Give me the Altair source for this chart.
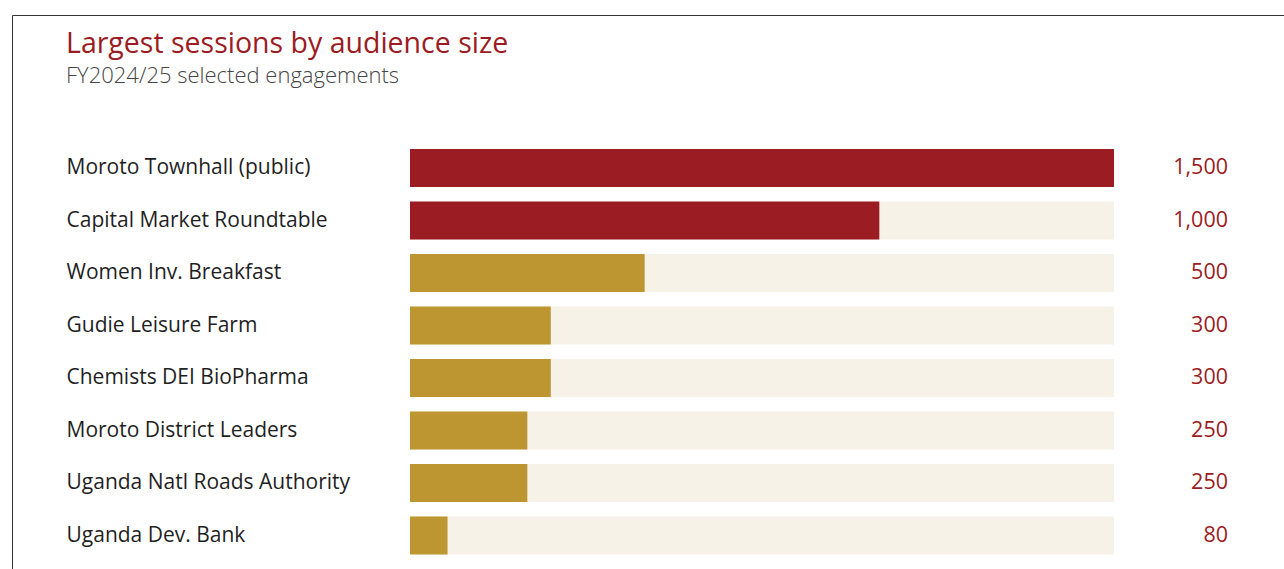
import altair as alt
import pandas as pd

sessions = [
    "Moroto Townhall (public)",
    "Capital Market Roundtable",
    "Women Inv. Breakfast",
    "Gudie Leisure Farm",
    "Chemists DEI BioPharma",
    "Moroto District Leaders",
    "Uganda Natl Roads Authority",
    "Uganda Dev. Bank",
]
audience = [1500, 1000, 500, 300, 300, 250, 250, 80]
scale_max = 1500

df = pd.DataFrame({"session": sessions, "audience": audience})

RED = "#9B1C22"
GOLD = "#BD9632"
TRACK = "#F7F2E8"
FONT = "Open Sans"

y = alt.Y(
    "session:N",
    sort=sessions,
    title=None,
    scale=alt.Scale(range=[126.75, 546.75], paddingInner=0.276, paddingOuter=0.138),
    axis=alt.Axis(
        domain=False, ticks=False, grid=False,
        labelAlign="left", labelPadding=-54,
        labelFontSize=21, labelColor="#1f1f1f", labelFont=FONT,
        labelFontWeight=500, labelLimit=400,
    ),
)
xs = alt.Scale(domain=[0, scale_max], range=[398, 1102])

base = alt.Chart(df).transform_calculate(track_end=str(scale_max))

track = base.mark_bar(color=TRACK).encode(
    y=y, x=alt.X("track_end:Q", scale=xs, axis=None)
)
bars = base.mark_bar().encode(
    y=y,
    x=alt.X("audience:Q", scale=xs, axis=None),
    color=alt.condition("datum.audience >= 1000", alt.value(RED), alt.value(GOLD)),
)
labels = base.mark_text(
    align="right", baseline="middle", dx=114, fontSize=21.5, font=FONT,
    color=RED, fontWeight=500,
).encode(
    y=y,
    x=alt.X("track_end:Q", scale=xs, axis=None),
    text=alt.Text("audience:Q", format=","),
)

chart = alt.layer(track, bars, labels).properties(
    width=1272,
    height=554,
    padding={"left": 12, "top": 15, "right": 0, "bottom": 0},
    autosize="none",
    background="white",
    title=alt.Title(
        text="Largest sessions by audience size",
        subtitle="FY2024/25 selected engagements",
        anchor="start", frame="group", dx=54, offset=-72,
        font=FONT, fontSize=28.5, fontWeight="normal", color=RED,
        subtitleFont=FONT, subtitleFontSize=22, subtitleColor="#444444",
        subtitleFontWeight=300, subtitlePadding=8,
    ),
).configure_view(stroke="#333333", strokeWidth=1)

chart.save("out.html", embed_options={"renderer": "svg", "actions": False})
